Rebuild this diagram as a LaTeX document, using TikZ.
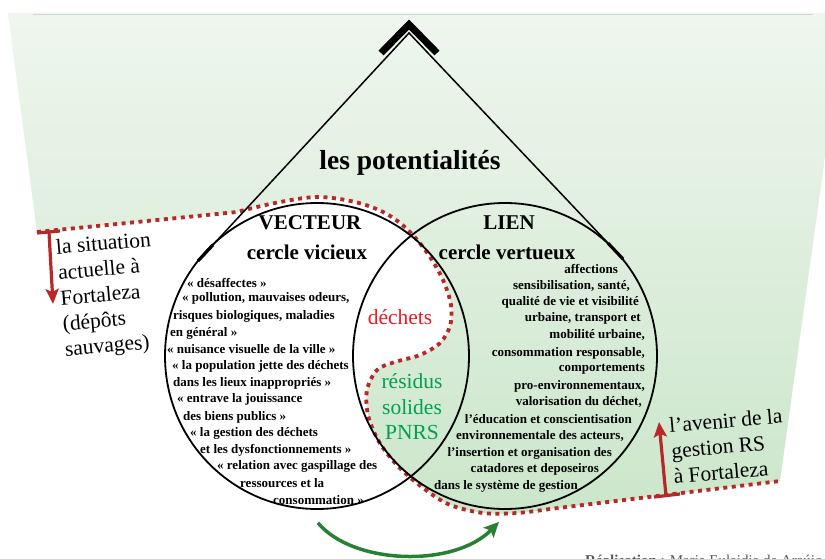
\documentclass[tikz,border=0pt]{standalone}
\usepackage{fontspec}
\setmainfont{Liberation Serif}
\usetikzlibrary{calc,arrows.meta,shapes.geometric}
\definecolor{dred}{RGB}{183,40,40}
\definecolor{tred}{RGB}{237,28,36}
\definecolor{tgreen}{RGB}{0,160,80}
\definecolor{agreen}{RGB}{40,128,50}
\definecolor{gtop}{RGB}{239,246,238}
\definecolor{gbot}{RGB}{203,230,202}
\definecolor{gline}{RGB}{196,224,196}
\definecolor{credit}{RGB}{90,90,90}
\begin{document}
\begin{tikzpicture}[x=1pt,y=-1pt,
  lt/.style={font=\fontsize{13}{15}\selectfont\bfseries, inner sep=0pt},
  hd/.style={font=\fontsize{21}{24}\selectfont\bfseries, inner sep=0pt},
  side/.style={font=\fontsize{21.5}{25.5}\selectfont, align=left, rotate=5, inner sep=0pt},
  mid/.style={font=\fontsize{21.5}{25.5}\selectfont, align=center, inner sep=0pt},
  ring/.style={draw, ellipse, line width=1.8pt, minimum width=304pt, minimum height=306pt, inner sep=0pt},
  dots/.style={draw=dred, line width=3.8pt, dash pattern=on 4pt off 4.5pt},
  rline/.style={draw=dred, line width=3.2pt},
  rarrow/.style={rline, -{Stealth[length=15pt,width=13pt,inset=3pt]}},
  garrow/.style={draw=agreen, line width=3.5pt, -{Stealth[length=15pt,width=14pt,inset=3pt]}},
  roof/.style={draw, line width=1.5pt}
]
\clip (0,0) rectangle (825,559);
\fill[white] (0,0) rectangle (825,559);
\def\bound{(237,212) (275,203) (317,197) (355,202) (385,213) (408,230) (428,254) (443,280) (451,305) (450,326) (440,343) (420,355) (395,362) (377,370) (367,390) (368,415) (378,440) (395,463) (418,484) (448,504) (483,513) (517,513) (550,509)}
% green background region
\shade[top color=gtop, bottom color=gbot]
  (37,232) -- plot[smooth, tension=0.55] coordinates {\bound}
  -- (780,481) -- (845,13) -- (8,13) -- cycle;
\draw[gline, line width=1.6pt] (33,14.5) -- (813,14.5);
% red dotted boundary
\draw[dots] (37,232) -- plot[smooth, tension=0.55] coordinates {\bound} -- (780,481);
% circles
\node[ring] (lc) at (317,356) {};
\node[ring] (rc) at (505,356) {};
% roof
\coordinate (apex) at (409,33);
\coordinate (lfoot) at (198,261);
\coordinate (rfoot) at (623,259);
\draw[roof] (lfoot) -- (apex) -- (rfoot);
\draw[line width=3.2pt] ($(lfoot)!0.07!(apex)$) -- (lfoot);
\draw[line width=3.2pt] ($(rfoot)!0.07!(apex)$) -- (rfoot);
\coordinate (chl) at (381,53);
\coordinate (cht) at (409,24.5);
\coordinate (chr) at (437,53);
\draw[line width=7pt, miter limit=10] (chl) -- (cht) -- (chr);
% red arrows
\draw[rline] (37,233) -- (60,231);
\coordinate (la0) at (49,232);
\coordinate (la1) at (53,304);
\draw[rarrow] (la0) -- (la1);
\draw[rline] (654,497) -- (680,494);
\coordinate (ra0) at (666,496);
\coordinate (ra1) at (659,422);
\draw[rarrow] (ra0) -- (ra1);
% green arrow
\draw[garrow] ($(lc.south)+(1,13)$) .. controls +(35,42) and +(-45,46) .. ($(rc.south)+(-6,12)$);
% titles
\node[font=\fontsize{27.5}{30}\selectfont\bfseries, inner sep=0pt] (pot) at (410,163) {les potentialités};
\node[hd] (vec) at (310,223) {VECTEUR};
\node[hd] (cvi) at (307,252) {cercle vicieux};
\node[hd] (lien) at (509,223) {LIEN};
\node[hd] (cve) at (507,252) {cercle vertueux};
% side texts
\node[side] (sit) at (108,296) {la situation\\actuelle à\\Fortaleza\\(dépôts\\sauvages)};
\node[side] (ave) at (728,446) {l’avenir de la\\gestion RS\\à Fortaleza};
% middle
\node[mid, text=tred] (dech) at (400,317) {déchets};
\node[mid, text=tgreen] (res) at (412,407) {résidus\\solides\\PNRS};
% left circle text
\node[lt, anchor=west] (v1) at (187,283) {« désaffectes »};
\node[lt, anchor=west] (v2) at (182,298) {« pollution, mauvaises odeurs,};
\node[lt, anchor=west] (v3) at (173,316) {risques biologiques, maladies};
\node[lt, anchor=west] (v4) at (170,333) {en général »};
\node[lt, anchor=west] (v5) at (167,349) {« nuisance visuelle de la ville »};
\node[lt, anchor=west] (v6) at (172,366) {« la population jette des déchets};
\node[lt, anchor=west] (v7) at (173,383) {dans les lieux inappropriés »};
\node[lt, anchor=west] (v8) at (177,399) {« entrave la jouissance};
\node[lt, anchor=west] (v9) at (183,417) {des biens publics »};
\node[lt, anchor=west] (v10) at (190,433) {« la gestion des déchets};
\node[lt, anchor=west] (v11) at (200,450) {et les dysfonctionnements »};
\node[lt, anchor=west] (v12) at (217,466) {« relation avec gaspillage des};
\node[lt, anchor=west] (v13) at (240,483) {ressources et la};
\node[lt, anchor=west] (v14) at (273,500) {consommation »};
% right circle text
\node[lt, anchor=east] (w1) at (618,269) {affections};
\node[lt, anchor=east] (w2) at (630,286) {sensibilisation, santé,};
\node[lt, anchor=east] (w3) at (639,302) {qualité de vie et visibilité};
\node[lt, anchor=east] (w4) at (641,318) {urbaine, transport et};
\node[lt, anchor=east] (w5) at (645,335) {mobilité urbaine,};
\node[lt, anchor=east] (w6) at (645,353) {consommation responsable,};
\node[lt, anchor=east] (w7) at (645,369) {comportements};
\node[lt, anchor=east] (w8) at (645,386) {pro-environnementaux,};
\node[lt, anchor=east] (w9) at (642,402) {valorisation du déchet,};
\node[lt, anchor=east] (w10) at (632,419) {l’éducation et conscientisation};
\node[lt, anchor=east] (w11) at (624,436) {environnementale des acteurs,};
\node[lt, anchor=east] (w12) at (612,453) {l’insertion et organisation des};
\node[lt, anchor=east] (w13) at (599,469) {catadores et deposeiros};
\node[lt, anchor=east] (w14) at (578,486) {dans le système de gestion};
% credit (cut by the page edge)
\node[anchor=base west, font=\fontsize{15}{17}\selectfont, text=credit, inner sep=0pt] (cred) at (585,565) {\textbf{Réalisation} : Maria Eulaidia de Araújo};
\end{tikzpicture}
\end{document}
